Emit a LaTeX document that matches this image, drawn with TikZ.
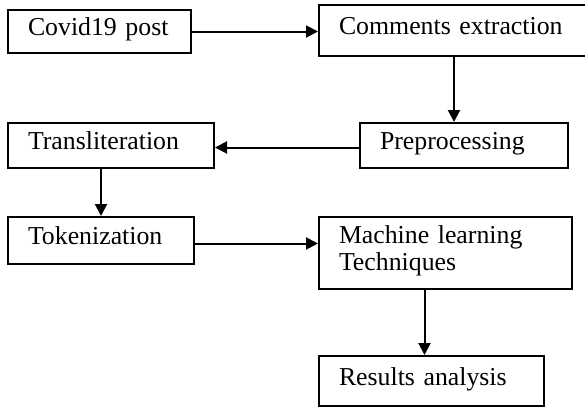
\documentclass[tikz,border=0pt]{standalone}
\usepackage{fontspec}
\setmainfont{Liberation Serif}
\usetikzlibrary{arrows.meta}
\tikzset{
  stage/.style={draw, line width=1pt, anchor=north west, inner xsep=10pt,
    inner ysep=0pt, align=left, font=\fontsize{12.9}{13.5}\selectfont,
    execute at end node={\rule[-4.8pt]{0pt}{0pt}}},
  flow/.style={line width=1pt, -{Triangle[length=6pt,width=6pt]}}
}
\begin{document}
\begin{tikzpicture}[x=0.5pt, y=-0.5pt]
  \useasboundingbox (0,0) rectangle (585,407);
  \clip (0,0) rectangle (585,407);
  \node[stage, text width=71.5pt, minimum height=21.5pt] (post) at (7,9) {Covid19 post};
  \node[stage, text width=115pt, minimum height=25.5pt] (extract) at (318,4) {Comments extraction};
  \node[stage, text width=84pt, minimum height=22.5pt] (prep) at (359,122) {Preprocessing};
  \node[stage, text width=83pt, minimum height=22.5pt] (translit) at (7,122) {Transliteration};
  \node[stage, text width=73pt, minimum height=23.5pt] (token) at (7,216) {Tokenization};
  \node[stage, text width=106.5pt, minimum height=36pt] (mlt) at (318,216) {Machine learning\\Techniques};
  \node[stage, text width=92.5pt, minimum height=25pt] (results) at (318,355) {Results analysis};
  \coordinate (rtop) at ([xshift=-3.5pt]results.north);
  \path[flow] (post) edge (post -| extract.west)
        (extract.south) edge (extract.south |- prep.north)
        ([yshift=-1pt]prep.west) edge ([yshift=-1pt]prep.west -| translit.east)
        (token.north |- translit.south) edge (token.north)
        ([yshift=-1.5pt]token.east) edge ([yshift=-1.5pt]token.east -| mlt.west)
        (rtop |- mlt.south) edge (rtop);
\end{tikzpicture}
\end{document}
